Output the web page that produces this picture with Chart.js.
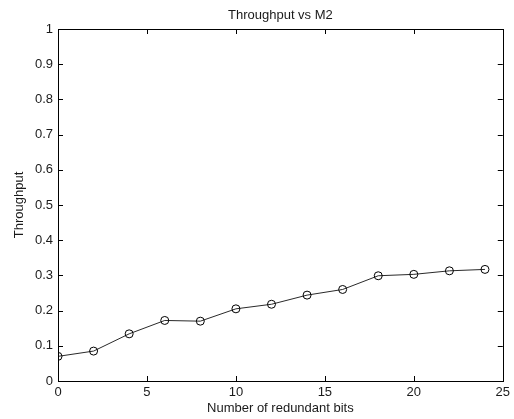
<!DOCTYPE html>
<html>
<head>
<meta charset="utf-8">
<script src="https://cdn.jsdelivr.net/npm/chart.js@4"></script>
<style>
  html, body { margin: 0; padding: 0; background: #fff; }
  #wrap { width: 514px; height: 419px; }
</style>
</head>
<body>
<div id="wrap"><canvas id="chart" width="514" height="419"></canvas></div>
<script>
// Data
const redundantBits = [0, 2, 4, 6, 8, 10, 12, 14, 16, 18, 20, 22, 24];
const throughput = [0.070, 0.085, 0.134, 0.172, 0.170, 0.205, 0.218, 0.244, 0.260, 0.299, 0.303, 0.313, 0.317];
const xTicks = [0, 5, 10, 15, 20, 25];
const yTicks = [0, 0.1, 0.2, 0.3, 0.4, 0.5, 0.6, 0.7, 0.8, 0.9, 1];

const FONT = 'Liberation Sans, Arial, sans-serif';
const INK = '#1a1a1a';

// Draws the MATLAB style box, inward ticks on all four sides, and the title
const boxPlugin = {
  id: 'boxPlugin',
  afterDatasetsDraw(chart) {
    const { ctx, chartArea: a, scales } = chart;
    const tick = 5;
    ctx.save();
    ctx.strokeStyle = '#000';
    ctx.lineWidth = 1;
    ctx.beginPath();
    xTicks.forEach(v => {
      const x = Math.round(scales.x.getPixelForValue(v)) + 0.5;
      ctx.moveTo(x, a.bottom); ctx.lineTo(x, a.bottom - tick);
      ctx.moveTo(x, a.top); ctx.lineTo(x, a.top + tick);
    });
    yTicks.forEach(v => {
      const y = Math.round(scales.y.getPixelForValue(v)) + 0.5;
      ctx.moveTo(a.left, y); ctx.lineTo(a.left + tick, y);
      ctx.moveTo(a.right, y); ctx.lineTo(a.right - tick, y);
    });
    ctx.stroke();
    ctx.strokeRect(Math.round(a.left) + 0.5, Math.round(a.top) + 0.5,
      Math.round(a.right - a.left), Math.round(a.bottom - a.top));

    ctx.fillStyle = INK;
    ctx.font = '13px ' + FONT;
    ctx.textAlign = 'center';
    ctx.textBaseline = 'middle';
    ctx.fillText('Throughput vs M2', (a.left + a.right) / 2, 15);
    ctx.restore();
  }
};

const ctx = document.getElementById('chart').getContext('2d');
new Chart(ctx, {
  type: 'line',
  data: {
    datasets: [{
      label: 'Throughput',
      data: redundantBits.map((b, i) => ({ x: b, y: throughput[i] })),
      borderColor: '#2a2a2a',
      borderWidth: 1,
      pointStyle: 'circle',
      pointRadius: 4,
      pointBorderWidth: 1,
      pointBorderColor: '#000',
      pointBackgroundColor: 'rgba(0,0,0,0)',
      tension: 0
    }]
  },
  options: {
    responsive: false,
    animation: false,
    layout: { padding: { top: 29, right: 8, left: 0, bottom: 0 } },
    plugins: {
      legend: { display: false },
      title: { display: false },
      tooltip: { enabled: false }
    },
    scales: {
      x: {
        type: 'linear',
        min: 0,
        max: 25,
        afterBuildTicks: s => { s.ticks = xTicks.map(v => ({ value: v })); },
        afterFit: s => { s.height = 38; },
        grid: { display: false, drawTicks: false },
        border: { display: false },
        ticks: { color: INK, font: { family: FONT, size: 13 }, padding: 4, maxRotation: 0 },
        title: {
          display: true,
          text: 'Number of redundant bits',
          color: INK,
          font: { family: FONT, size: 13 },
          padding: { top: 0, bottom: 3 }
        }
      },
      y: {
        type: 'linear',
        min: 0,
        max: 1,
        afterBuildTicks: s => { s.ticks = yTicks.map(v => ({ value: v })); },
        afterFit: s => { s.width = 58; },
        grid: { display: false, drawTicks: false },
        border: { display: false },
        ticks: {
          color: INK,
          font: { family: FONT, size: 13 },
          padding: 5,
          callback: v => String(Math.round(v * 10) / 10)
        },
        title: {
          display: true,
          text: 'Throughput',
          color: INK,
          font: { family: FONT, size: 13 },
          padding: { top: 12, bottom: 0 }
        }
      }
    }
  },
  plugins: [boxPlugin]
});
</script>
</body>
</html>
